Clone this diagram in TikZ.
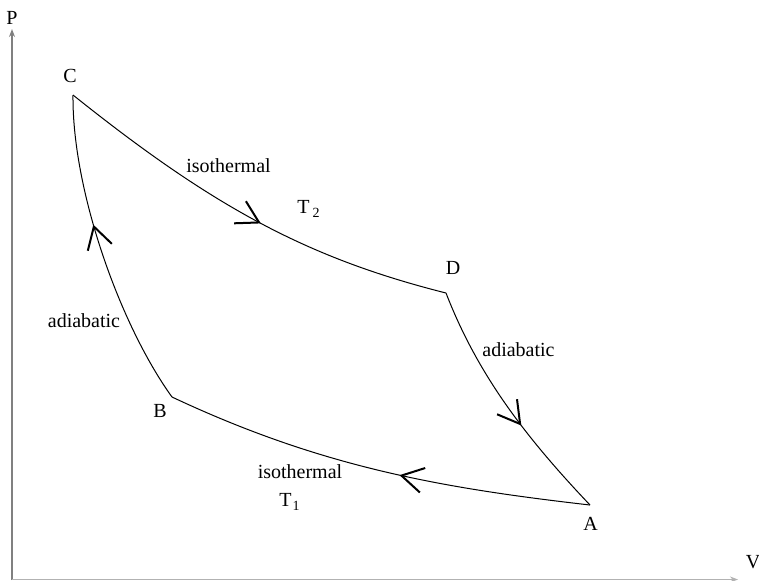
\documentclass[tikz,border=0pt]{standalone}
\usepackage{fontspec}
\setmainfont{Liberation Serif}
\usetikzlibrary{decorations.markings,arrows.meta}
\tikzset{
  lbl/.style={inner sep=0pt, anchor=base, font=\fontsize{10}{12}\selectfont},
  curveline/.style={line width=0.5pt, black},
  flowmark/.style={postaction={decorate}, decoration={markings,
      mark=at position #1 with {\draw[line width=1pt, line join=miter, line cap=butt]
        (-10.8pt,6.25pt) -- (0pt,0pt) -- (-10.8pt,-6.25pt);}}},
  axisline/.style={line width=1pt, gray},
}
\newcommand{\smallsub}[1]{\raisebox{-2pt}{\fontsize{7}{8}\selectfont #1}}
\begin{document}
\begin{tikzpicture}[x=0.5pt, y=-0.5pt]
\useasboundingbox (0,0) rectangle (759,580);
% axes
\coordinate (O) at (12,580);
\coordinate (Ptop) at (12,29);
\coordinate (Vend) at (738,579.5);
\draw[axisline, -{Stealth[length=4pt,width=3pt]}] (O) -- (Ptop);
\draw[line width=0.5pt, gray!60, -{Stealth[length=4pt,width=3pt]}] (12,579.5) -- (Vend);
\node[lbl] (plabel) at (12,24) {P};
\node[lbl] (vlabel) at (753,568) {V};
% corners
\coordinate (C) at (73,95);
\coordinate (D) at (446,293);
\coordinate (A) at (590,505);
\coordinate (B) at (172,397);
% cycle
\draw[curveline, flowmark=0.53] (C) .. controls (213,207) and (307,258) .. (D);
\draw[curveline, flowmark=0.585] (D) .. controls (477,373) and (523.5,435) .. (A);
\draw[curveline, flowmark=0.44] (A) .. controls (442,488) and (322,467.5) .. (B);
\draw[curveline, flowmark=0.585] (B) .. controls (120,325) and (72,190) .. (C);
% labels
\node[lbl] (clabel) at (70,82) {C};
\node[lbl] (dlabel) at (453,274) {D};
\node[lbl] (blabel) at (160,417) {B};
\node[lbl] (alabel) at (590.5,530) {A};
\node[lbl] (iso2) at (228.5,172) {isothermal};
\node[lbl, anchor=base west] (t2) at (297,213) {T\hspace{1.5pt}\smallsub{2}};
\node[lbl] (adr) at (518.5,356) {adiabatic};
\node[lbl] (adl) at (84,327) {adiabatic};
\node[lbl] (iso1) at (300,478) {isothermal};
\node[lbl, anchor=base west] (t1) at (279,506) {T\hspace{0.5pt}\smallsub{1}};
\end{tikzpicture}
\end{document}
